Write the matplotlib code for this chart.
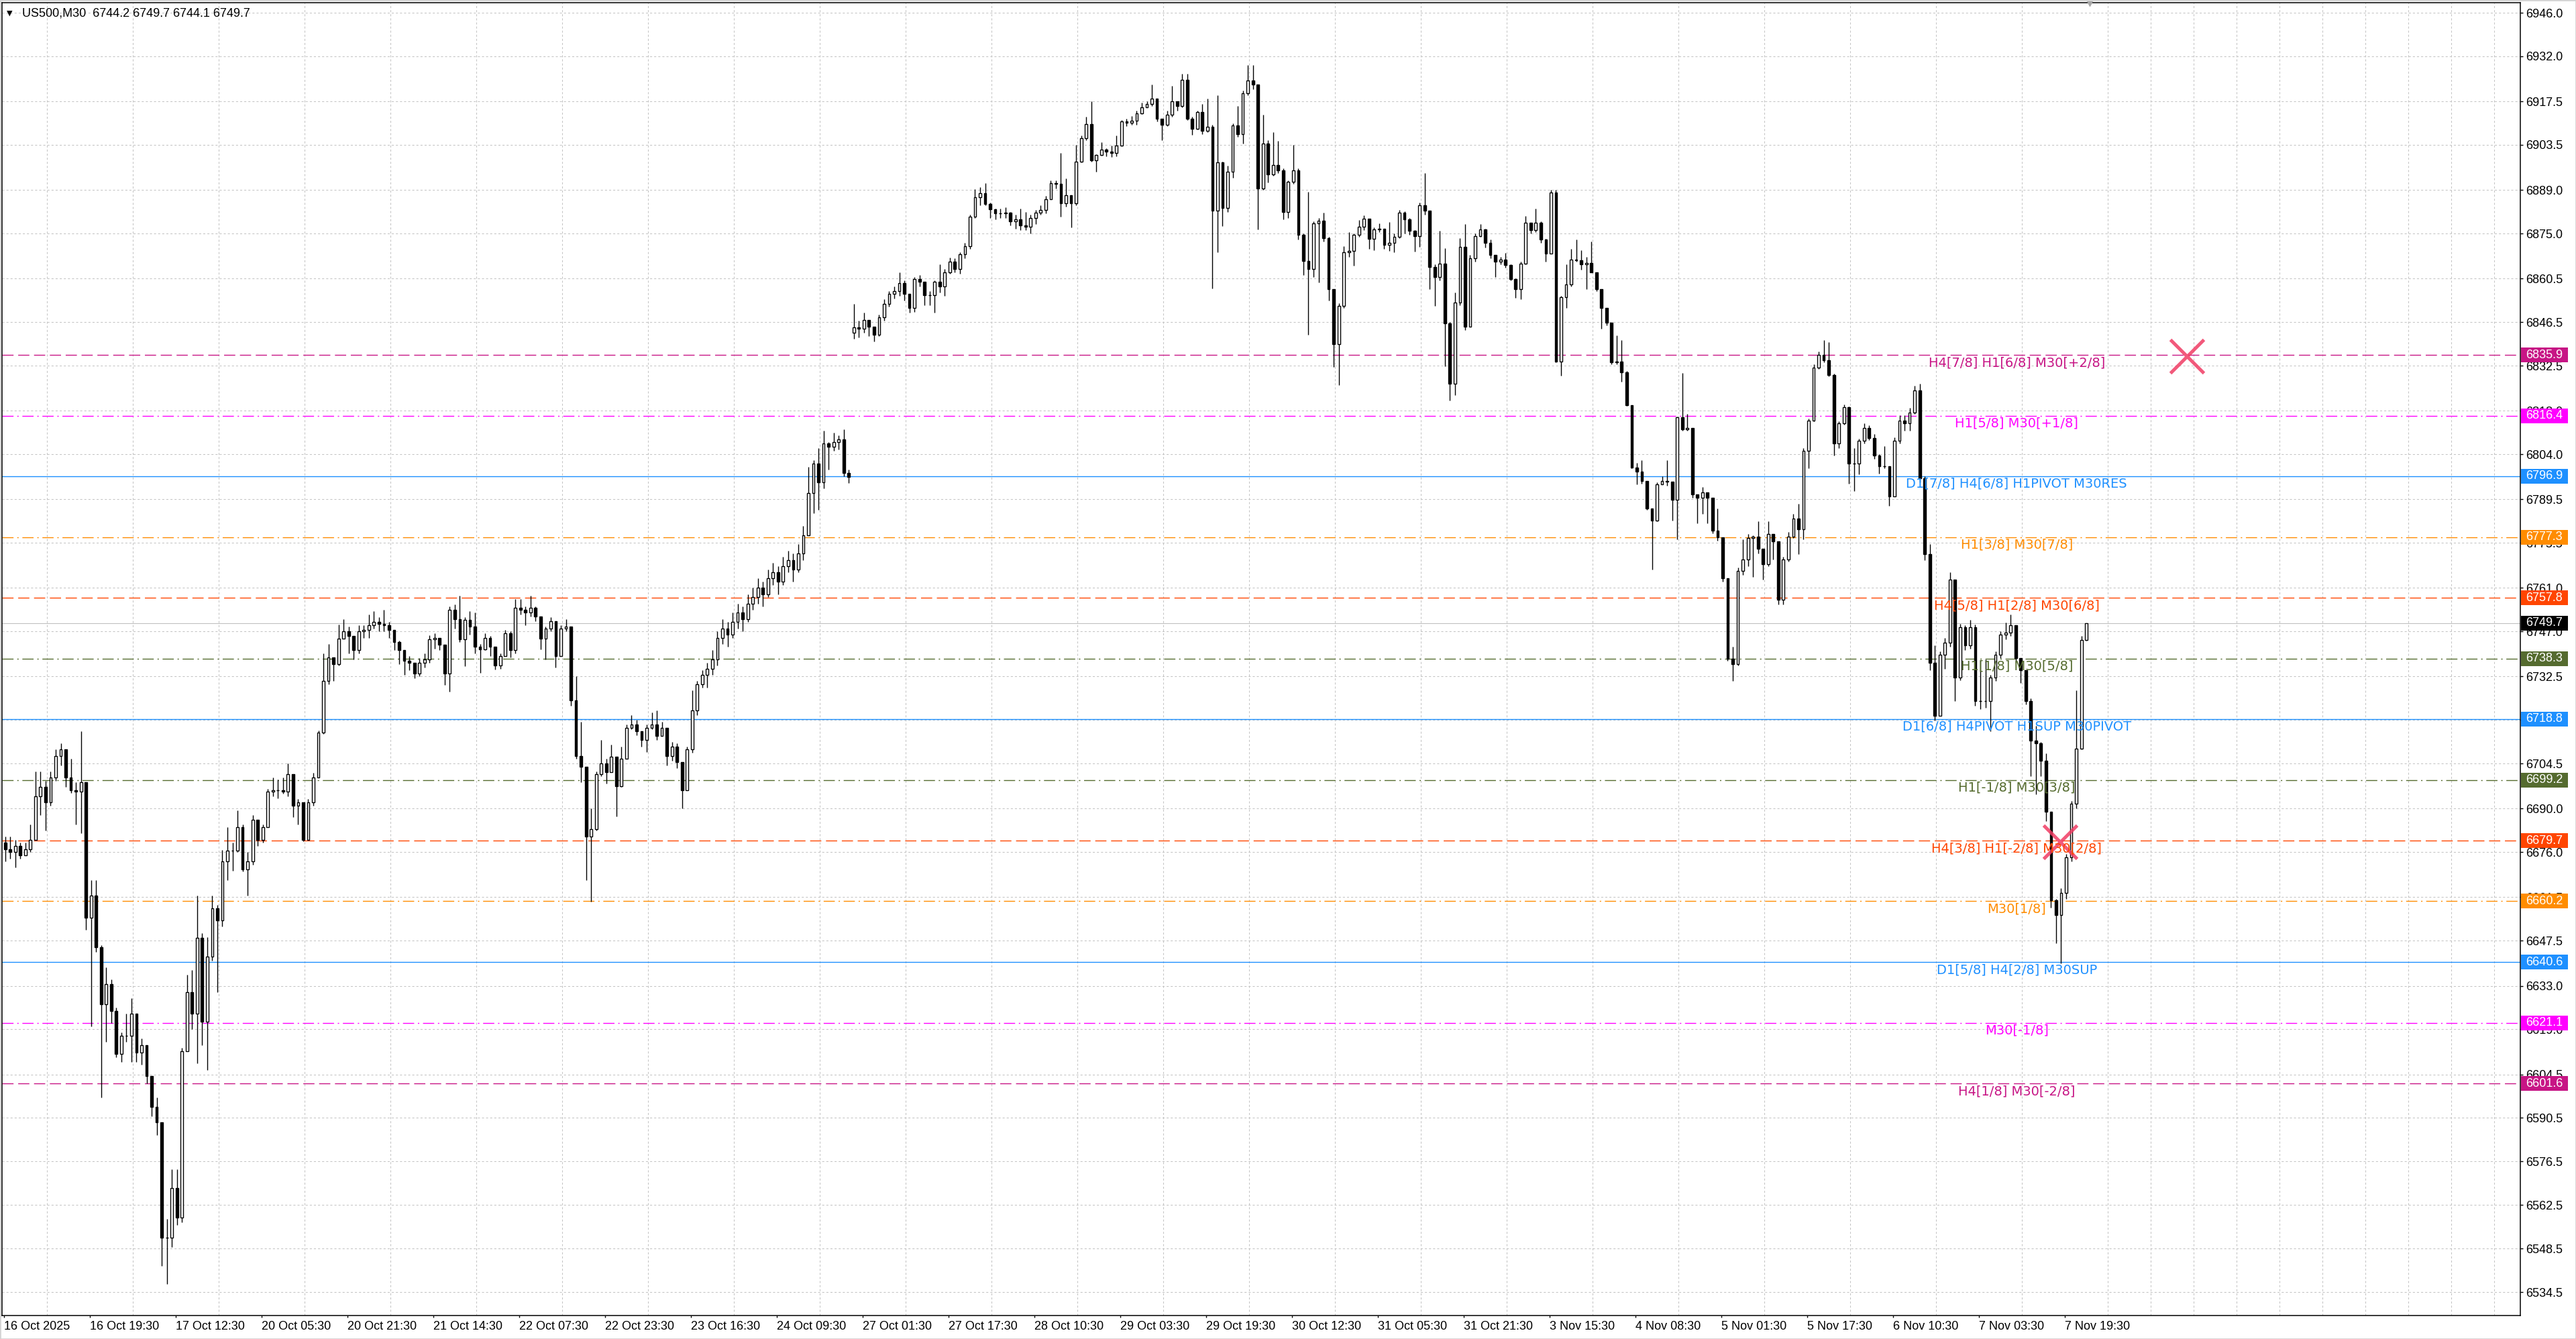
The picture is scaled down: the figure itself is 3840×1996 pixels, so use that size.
import matplotlib
matplotlib.use("Agg")
import matplotlib.pyplot as plt
import numpy as np
from matplotlib.patches import Rectangle

# ---- values ----
header = "US500,M30  6744.2 6749.7 6744.1 6749.7"

time_labels = ["16 Oct 2025", "16 Oct 19:30", "17 Oct 12:30", "20 Oct 05:30", "20 Oct 21:30",
               "21 Oct 14:30", "22 Oct 07:30", "22 Oct 23:30", "23 Oct 16:30", "24 Oct 09:30",
               "27 Oct 01:30", "27 Oct 17:30", "28 Oct 10:30", "29 Oct 03:30", "29 Oct 19:30",
               "30 Oct 12:30", "31 Oct 05:30", "31 Oct 21:30", "3 Nov 15:30", "4 Nov 08:30",
               "5 Nov 01:30", "5 Nov 17:30", "6 Nov 10:30", "7 Nov 03:30", "7 Nov 19:30"]

price_ticks = [6946.0, 6932.0, 6917.5, 6903.5, 6889.0, 6875.0, 6860.5, 6846.5, 6832.5, 6818.0,
               6804.0, 6789.5, 6775.5, 6761.0, 6747.0, 6732.5, 6718.5, 6704.5, 6690.0, 6676.0,
               6661.5, 6647.5, 6633.0, 6619.0, 6604.5, 6590.5, 6576.5, 6562.5, 6548.5, 6534.5]

# roughly hourly candles (one slot ~ 2 bars of the chart)
closes = [
    6677, 6676, 6678, 6675, 6677, 6680, 6694, 6697, 6692, 6700,
    6707, 6709, 6700, 6696, 6695.5, 6698.5, 6655, 6662, 6645.5, 6627,
    6633.5, 6625, 6611, 6617, 6617, 6624, 6611.5, 6614, 6604, 6594,
    6589, 6552, 6552, 6568, 6558.5, 6612, 6631, 6624, 6648.5, 6621.5,
    6642.5, 6658, 6654, 6673, 6676.5, 6676.5, 6684, 6670.5, 6673, 6686.5,
    6680, 6684, 6695.5, 6696, 6696, 6695.5, 6701, 6691, 6692, 6680,
    6692, 6700, 6714.5, 6731, 6738.7, 6736.4, 6744.7, 6747, 6745.5, 6741,
    6747, 6747.5, 6749, 6750, 6749.5, 6749, 6747.5, 6743.5, 6741, 6737.5,
    6737, 6733.5, 6737, 6738, 6744.5, 6745, 6742.7, 6733.5, 6754, 6751,
    6744.5, 6750.7, 6748.5, 6742, 6741.3, 6745, 6742, 6736, 6739, 6746.3,
    6741, 6754.6, 6754, 6753, 6754.6, 6751.8, 6744.6, 6748, 6750.2, 6739,
    6748, 6748.5, 6724.8, 6707, 6703.4, 6681, 6683.5, 6701, 6704.5, 6701.7,
    6706.7, 6697.3, 6706, 6716, 6717, 6715, 6712, 6716, 6717, 6713.3,
    6716, 6707, 6710, 6705, 6696, 6709, 6721.5, 6730, 6733, 6735,
    6738, 6745, 6748, 6746, 6750, 6753, 6751, 6756, 6758, 6761,
    6759, 6764, 6766, 6763, 6768, 6770, 6767, 6772, 6778, 6791.5,
    6801, 6795, 6807.4, 6806.3, 6808, 6808.8, 6798, 6796.7, 6844.9, 6844.4,
    6847.2, 6845, 6842.5, 6848, 6852.3, 6855.6, 6856.5, 6859, 6855.6, 6851,
    6860.3, 6859.4, 6855.2, 6855.2, 6859.4, 6858, 6862.6, 6866, 6863.6, 6868.3,
    6871, 6880.4, 6886.7, 6888, 6884.6, 6882.8, 6881.4, 6881.4, 6881.8, 6879,
    6879.5, 6877.6, 6877.2, 6880, 6881.8, 6882.6, 6886, 6891.2, 6891, 6884.7,
    6887.4, 6884.7, 6898.2, 6905.6, 6910.2, 6898.6, 6900.2, 6902, 6901.3, 6901,
    6903.2, 6911, 6910.6, 6911.3, 6913.6, 6915.6, 6916.7, 6918.3, 6912, 6910,
    6913.3, 6917.5, 6916, 6924.4, 6912, 6908.6, 6914, 6908, 6909.3, 6882.4,
    6897.8, 6883.3, 6894.8, 6909.8, 6907, 6920.2, 6924.2, 6923, 6889.4, 6904,
    6894, 6897, 6895.2, 6882, 6891.7, 6895.2, 6874.6, 6866.2, 6863.5, 6878.2,
    6879.2, 6873.6, 6857, 6839.3, 6851.8, 6869, 6869.3, 6874.6, 6877.2, 6879.7,
    6873.2, 6876.3, 6876.6, 6871.3, 6872, 6874, 6881.7, 6879.6, 6875.8, 6874.1,
    6884, 6882.4, 6864.2, 6860.9, 6865.3, 6846.1, 6826.6, 6852.7, 6870.8, 6845,
    6867, 6874.1, 6876.3, 6871.9, 6868.1, 6865.9, 6866.6, 6864.8, 6860.4, 6857.1,
    6865.3, 6878.5, 6876.1, 6878.5, 6873, 6868.6, 6888.2, 6833.9, 6854.5, 6858.7,
    6866.6, 6866.4, 6865.1, 6865.5, 6862.6, 6857.1, 6851, 6846.4, 6833.6, 6833.9,
    6830.3, 6819.8, 6799.8, 6798.4, 6795.4, 6786.6, 6782.7, 6794.3, 6795.4, 6795.1,
    6789.4, 6815.8, 6811.9, 6812.5, 6791, 6789.9, 6791.8, 6789.9, 6779.4, 6777.2,
    6764, 6738.1, 6736.5, 6766.5, 6770.1, 6777, 6777.5, 6773.5, 6768.6, 6778.3,
    6775.9, 6757.2, 6770.2, 6777.5, 6783.2, 6779.9, 6805.1, 6814.9, 6831.9, 6836,
    6834.3, 6829.5, 6807.5, 6814, 6819.2, 6801, 6801, 6808.4, 6812.4, 6809.2,
    6803.5, 6800.2, 6800.2, 6790.5, 6808.4, 6814.9, 6814, 6817.3, 6824.6, 6796.2,
    6771.8, 6736.9, 6719.9, 6739.4, 6743.4, 6763.7, 6732.1, 6748.3, 6742.6, 6748.3,
    6724.7, 6724.7, 6724.7, 6732.1, 6739.4, 6745.9, 6746.7, 6749.1, 6738.5, 6734.5,
    6724.7, 6711.8, 6711, 6705.3, 6689, 6660.6, 6655.7, 6663, 6674.4, 6691.5,
    6709.3, 6744.2, 6749.7]

highs = [
    6681, 6681, 6680, 6679, 6679, 6685, 6702, 6702, 6699, 6702,
    6709, 6711, 6707, 6706, 6698.6, 6715, 6685, 6667, 6667, 6646,
    6639, 6635, 6626, 6618, 6624, 6629, 6624, 6616, 6614, 6603,
    6597, 6589, 6558, 6574, 6574, 6613, 6636.5, 6638, 6662, 6650,
    6648.6, 6662, 6659, 6676.6, 6684, 6679, 6689.5, 6685, 6676, 6688,
    6686.5, 6685, 6696.3, 6700, 6699.3, 6700, 6704.6, 6700, 6693, 6692,
    6693, 6701.6, 6715.2, 6740, 6743, 6738.7, 6749.3, 6751, 6748.5, 6745.5,
    6749, 6749, 6752.4, 6753.5, 6751.5, 6754, 6750, 6747, 6744, 6741,
    6739, 6737, 6738.5, 6740, 6745.8, 6746.3, 6745, 6742.7, 6755, 6755.7,
    6758.4, 6751.5, 6753.5, 6753, 6743, 6746.5, 6745.5, 6741, 6740, 6747.4,
    6747, 6757.3, 6757.3, 6755, 6758.4, 6755, 6751.5, 6748.5, 6751.5, 6750,
    6749, 6751, 6748.5, 6732.5, 6718, 6703.4, 6690, 6702, 6712, 6706,
    6710.5, 6706.7, 6710, 6717, 6720, 6718.5, 6714.5, 6717, 6721, 6721.5,
    6718, 6715, 6711.5, 6711, 6705, 6710, 6728, 6731, 6734.5, 6737,
    6741, 6747, 6751, 6750, 6753, 6756, 6755, 6759, 6761, 6764,
    6763, 6767, 6769, 6768, 6771, 6773, 6772, 6775, 6781, 6800,
    6802, 6806, 6811.6, 6808, 6811, 6810, 6812, 6799, 6852.3, 6847,
    6849.5, 6847, 6845, 6849, 6853.8, 6856.5, 6858, 6862.6, 6860, 6855.6,
    6861, 6861.7, 6859.4, 6856.5, 6860, 6865, 6863.5, 6867.3, 6867, 6869,
    6872, 6881, 6889.3, 6890, 6891.2, 6885, 6883, 6883, 6883.5, 6882,
    6881, 6883, 6882, 6881, 6882.5, 6884, 6887, 6892, 6892, 6901,
    6892.6, 6887.2, 6903.6, 6906.5, 6912.6, 6917.5, 6900.5, 6904.4, 6902.5, 6903.2,
    6906.5, 6911.5, 6912, 6912.8, 6914.5, 6917, 6917.5, 6923, 6917.5, 6912,
    6914.5, 6922.5, 6917.5, 6926.4, 6926.4, 6912.5, 6914.5, 6916.7, 6918.4, 6910,
    6919.4, 6898, 6896.7, 6910.5, 6916, 6921, 6929.1, 6929.1, 6923, 6913.3,
    6905, 6907.5, 6904.8, 6896, 6892, 6903.4, 6896, 6875, 6888.4, 6879,
    6880, 6881.7, 6874, 6857, 6852.5, 6871, 6875.5, 6875, 6879.3, 6880.9,
    6879.5, 6877, 6878.2, 6876.6, 6878.6, 6875, 6882.5, 6882.1, 6880, 6876,
    6885, 6894.5, 6882, 6865, 6875.8, 6870.3, 6846.6, 6856, 6873.6, 6878,
    6868, 6875, 6878, 6876.5, 6873, 6868, 6867.5, 6868.8, 6865, 6860.5,
    6866, 6880.7, 6878, 6882.9, 6879, 6873.2, 6889, 6889, 6855, 6865,
    6870, 6873, 6869.7, 6867.5, 6872.5, 6862.6, 6857, 6851, 6846.4, 6842.2,
    6840.8, 6830.8, 6819.6, 6801.3, 6802, 6795.4, 6786.4, 6795, 6796.8, 6802,
    6794.3, 6816, 6830.1, 6816.9, 6812.5, 6790.7, 6793.5, 6790.5, 6790, 6786.6,
    6777.2, 6764, 6742, 6767.5, 6776.7, 6778.3, 6778, 6782.4, 6773, 6782.4,
    6778, 6776, 6771, 6779, 6784.8, 6788, 6806, 6815.5, 6833, 6837,
    6840.8, 6840, 6830, 6814.5, 6820, 6819.3, 6806, 6809, 6814, 6813.2,
    6810.5, 6804, 6806.7, 6797, 6809.5, 6816.5, 6816.5, 6819, 6826, 6826.7,
    6797, 6775, 6742.5, 6740.5, 6745, 6766.1, 6763.5, 6749.5, 6749.1, 6750.7,
    6749.2, 6737.7, 6738, 6733, 6740.5, 6747, 6749.9, 6752.4, 6745.5, 6738.5,
    6734, 6725.5, 6716.6, 6711.5, 6707.7, 6689, 6661, 6664.5, 6675.5, 6692.5,
    6728, 6745.5, 6749.7]

lows = [
    6673, 6674, 6671, 6674, 6675, 6676, 6680, 6688, 6683, 6691,
    6699, 6704, 6697, 6695, 6685, 6682, 6651, 6620, 6644, 6597,
    6615, 6621, 6610, 6608.5, 6615, 6608.5, 6608.5, 6607.7, 6601.7, 6591,
    6585, 6543, 6537, 6549, 6556, 6557, 6612, 6619, 6608, 6614,
    6606, 6641, 6631, 6652, 6667, 6670, 6676, 6669.8, 6662, 6672,
    6678, 6679, 6684, 6694, 6693.3, 6694.8, 6694, 6687.2, 6685, 6679.6,
    6680, 6691, 6700, 6714, 6730, 6731, 6736, 6744.7, 6740, 6738,
    6740, 6745, 6745, 6748, 6747, 6747, 6745, 6741, 6736.4, 6733,
    6734.5, 6732, 6732.5, 6735.5, 6737, 6741.5, 6741, 6729.8, 6727.6, 6747.9,
    6743.5, 6735.8, 6746, 6740, 6733.6, 6741, 6739, 6734.7, 6735, 6739,
    6738.6, 6740, 6752.5, 6749, 6751.8, 6750.2, 6741.3, 6738, 6747, 6735.3,
    6739, 6747, 6723, 6706, 6698.4, 6667, 6660, 6683, 6700.5, 6698,
    6704, 6687.4, 6697, 6706, 6715.5, 6713.5, 6710, 6708.3, 6715.5, 6712,
    6714, 6703.9, 6705.5, 6703, 6690, 6696, 6708, 6720, 6729, 6729,
    6733, 6736, 6743, 6742, 6745, 6748, 6747, 6750, 6754, 6756,
    6755, 6758, 6762, 6759, 6762, 6766, 6763, 6766, 6770, 6781,
    6785, 6786, 6793, 6799, 6805, 6805.6, 6797, 6794.8, 6841.1, 6841.6,
    6843, 6842, 6840.2, 6842, 6847, 6851.5, 6854, 6855, 6853.5, 6849.5,
    6849.8, 6858, 6851.9, 6852, 6849.5, 6856, 6855, 6862, 6862.5, 6862,
    6867, 6870, 6880, 6884, 6884, 6880, 6879.5, 6880, 6880, 6877.5,
    6876.5, 6876, 6876, 6875, 6878, 6881, 6881.5, 6886, 6889.5, 6880.5,
    6883.6, 6877, 6884, 6897.8, 6905, 6898, 6894.8, 6900, 6899.8, 6899.6,
    6899.8, 6903, 6909.5, 6910, 6910, 6913.5, 6915.5, 6916, 6911, 6905,
    6909.5, 6912.5, 6914.5, 6915.5, 6911.5, 6906.7, 6908.5, 6907, 6907.5, 6857.4,
    6869, 6877.4, 6882, 6893, 6906, 6904, 6919.5, 6921.5, 6876.2, 6889,
    6891.5, 6893.5, 6894.5, 6879.5, 6880, 6891, 6873, 6861.6, 6842.4, 6860.9,
    6859.3, 6872.5, 6853.5, 6832, 6826.2, 6851, 6867.5, 6864.7, 6874, 6876,
    6870, 6869.7, 6875.5, 6870, 6869.5, 6869, 6873.5, 6875, 6874.5, 6869.2,
    6870.8, 6881, 6857.1, 6851.6, 6860, 6832.3, 6821.3, 6822.9, 6852, 6843.9,
    6845, 6866, 6874, 6870.5, 6867, 6861, 6865, 6864, 6860, 6854.3,
    6853.8, 6865, 6875, 6875.5, 6872, 6865.9, 6868.5, 6833.5, 6829.2, 6851,
    6858, 6866, 6863.3, 6857.1, 6862.5, 6856.5, 6844.4, 6845.5, 6833, 6833,
    6827.3, 6819.5, 6799.5, 6794.3, 6794.5, 6786, 6766.8, 6782.5, 6794.3, 6793.8,
    6782.7, 6776.7, 6811.5, 6811.5, 6790, 6781.7, 6784.9, 6781.7, 6778.5, 6776.2,
    6763, 6737.5, 6731, 6736, 6765.1, 6768, 6764.5, 6772, 6763.7, 6768,
    6770.2, 6755.6, 6755.6, 6769.5, 6777, 6771.8, 6776.7, 6799.4, 6814.5, 6831.5,
    6833.5, 6829, 6803.5, 6806, 6813.5, 6794.5, 6792.1, 6797.5, 6807.5, 6808.5,
    6802.5, 6797.8, 6799.5, 6787.3, 6791.3, 6807.5, 6811.5, 6811.5, 6817, 6795,
    6770, 6734.5, 6718.3, 6720.7, 6735, 6742, 6724.7, 6731.3, 6741, 6741.5,
    6723, 6722, 6722.5, 6715, 6731, 6738.5, 6744.5, 6745.5, 6737, 6730.4,
    6723.5, 6700.4, 6694.7, 6700.5, 6686, 6658.2, 6646.8, 6640.3, 6661, 6673,
    6690, 6709, 6744.1]

# opens that do not follow the previous close (start and the weekend gap)
gap_opens = {0: 6679.0, 168: 6843.0}

level_prices = [6835.9, 6816.4, 6796.9, 6777.3, 6757.8, 6738.3, 6718.8,
                6699.2, 6679.7, 6660.2, 6640.6, 6621.1, 6601.6]
level_texts = ["H4[7/8] H1[6/8] M30[+2/8]", "H1[5/8] M30[+1/8]", "D1[7/8] H4[6/8] H1PIVOT M30RES",
               "H1[3/8] M30[7/8]", "H4[5/8] H1[2/8] M30[6/8]", "H1[1/8] M30[5/8]",
               "D1[6/8] H4PIVOT H1SUP M30PIVOT", "H1[-1/8] M30[3/8]", "H4[3/8] H1[-2/8] M30[2/8]",
               "M30[1/8]", "D1[5/8] H4[2/8] M30SUP", "M30[-1/8]", "H4[1/8] M30[-2/8]"]
level_colors = ["#c71585", "#ff00ff", "#1e90ff", "#ff8c00", "#ff4500", "#556b2f", "#1e90ff",
                "#556b2f", "#ff4500", "#ff8c00", "#1e90ff", "#ff00ff", "#c71585"]
level_styles = ["dash", "dashdot", "solid", "dashdot", "dash", "dashdot", "solid",
                "dashdot", "dash", "dashdot", "solid", "dashdot", "dash"]

last_price = 6749.7
cross_x = [431.9, 406.8]
cross_y = [6835.6, 6679.4]

# ---- figure ----
plt.rcParams["lines.scale_dashes"] = False
W, H = 3840, 1996
fig = plt.figure(figsize=(W / 100, H / 100), dpi=100)
fig.patch.set_facecolor("white")
ax = fig.add_axes([3 / W, 1 - 1961 / H, 3754 / W, 1957 / H])
ax.set_xlim(-0.62, 497.9)
ax.set_ylim(6526.95, 6949.24)

dash_map = {"dash": (0, (12, 5)), "dashdot": (0, (12, 4, 1.5, 4)), "solid": "-"}

# grid
ax.set_axisbelow(True)
ax.set_xticks([17 * j - 0.25 for j in range(len(time_labels))])
ax.set_xticks([8.5 * k - 0.25 for k in range(59)], minor=True)
ax.set_xticklabels(time_labels, fontsize=13, family="Liberation Sans", ha="left")
ax.tick_params(axis="x", which="major", direction="out", length=2.5, width=1, pad=3)
ax.tick_params(axis="x", which="minor", length=0)
ax.yaxis.tick_right()
ax.set_yticks(price_ticks)
ax.set_yticklabels([f"{v:.1f}" for v in price_ticks], fontsize=13, family="Liberation Sans")
ax.tick_params(axis="y", direction="out", length=3, width=1, pad=3)
ax.grid(True, which="minor", axis="x", color="#c4c4c4", linestyle=(0, (2.2, 2.2)), linewidth=0.75)
ax.grid(True, which="major", axis="y", color="#c4c4c4", linestyle=(0, (2.2, 2.2)), linewidth=0.75)
for s in ax.spines.values():
    s.set_color("black")
    s.set_linewidth(1.1)

# current price line
ax.axhline(last_price, color="#c0c0c0", linewidth=0.8, zorder=1.8)

# murrey levels with labels
ytr = ax.get_yaxis_transform()
for p, txt, col, st in zip(level_prices, level_texts, level_colors, level_styles):
    ax.axhline(p, color=col, linewidth=1.0, linestyle=dash_map[st], zorder=2)
    ax.text(0.8, p - 2 / 4.634, txt, transform=ytr, ha="center", va="top", color=col,
            fontsize=14, family="DejaVu Sans", zorder=7)

# candles
n = min(len(closes), len(highs), len(lows))
xs = np.arange(n)
c = np.array(closes[:n], dtype=float)
o = np.array([gap_opens.get(i, closes[i - 1] if i else closes[0]) for i in range(n)], dtype=float)
hi = np.maximum(np.array(highs[:n], dtype=float), np.maximum(o, c))
lo = np.minimum(np.array(lows[:n], dtype=float), np.minimum(o, c))
ax.vlines(xs, lo, hi, color="black", linewidth=1.0, zorder=3)
up = c >= o
ax.bar(xs[up], (c - o)[up], bottom=o[up], width=0.5, facecolor="white",
       edgecolor="black", linewidth=1.0, zorder=4)
ax.bar(xs[~up], (c - o)[~up], bottom=o[~up], width=0.5, facecolor="black",
       edgecolor="black", linewidth=1.0, zorder=4)

# red crosses
ax.plot(cross_x, cross_y, linestyle="none", marker="x", markersize=36,
        markeredgewidth=3.6, color="#f03c64", alpha=0.85, zorder=6)

# price boxes on the right scale
bx0 = (3758 - 3) / 3754
bw = 70 / 3754
bh = 22 / 4.634
box_prices = level_prices + [last_price]
box_colors = level_colors + ["black"]
for p, col in zip(box_prices, box_colors):
    ax.add_patch(Rectangle((bx0, p - bh / 2), bw, bh, transform=ytr, facecolor=col,
                           edgecolor="none", clip_on=False, zorder=10))
    ax.text((3765 - 3) / 3754, p, f"{p:.1f}", transform=ytr, color="white", fontsize=13,
            family="Liberation Sans", va="center", ha="left", clip_on=False, zorder=11)

# chart shift marker at top
ax.plot([412.7], [1.0], transform=ax.get_xaxis_transform(), marker="v", markersize=7,
        color="#a8a8a8", clip_on=False, zorder=9)

# header text
fig.text(14 / W, 1 - 20 / H, "\u25bc", fontsize=8, family="DejaVu Sans", ha="center", va="center")
fig.text(33 / W, 1 - 20 / H, header, fontsize=13, family="Liberation Sans", ha="left", va="center")

# light outer frame
fig.patches.append(Rectangle((0, 0), 1, 1, transform=fig.transFigure, fill=False,
                             edgecolor="#d4d4d4", linewidth=2))

fig.savefig("out.png", dpi=100)
